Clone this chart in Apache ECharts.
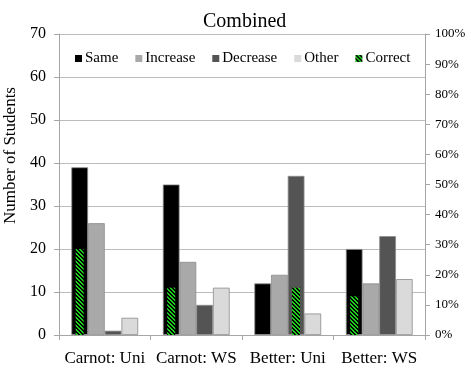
<!DOCTYPE html>
<html>
<head>
<meta charset="utf-8">
<script src="https://cdn.jsdelivr.net/npm/echarts@6/dist/echarts.min.js"></script>
<style>html,body{margin:0;padding:0;background:#fff;}#c{width:471px;height:369px;}</style>
</head>
<body>
<div id="c"></div>
<script>
const categories = ['Carnot: Uni', 'Carnot: WS', 'Better: Uni', 'Better: WS'];
const same = [39, 35, 12, 20];
const increase = [26, 17, 14, 12];
const decrease = [1, 7, 37, 23];
const other = [4, 11, 5, 13];
const correct = [20, 11, 11, 9];
const correctOver = ['Same', 'Same', 'Decrease', 'Same'];
const leftTicks = [0, 10, 20, 30, 40, 50, 60, 70];
const rightTicks = ['0%', '10%', '20%', '30%', '40%', '50%', '60%', '70%', '80%', '90%', '100%'];

const seriesNames = ['Same', 'Increase', 'Decrease', 'Other'];
const colors = ['#000000', '#a9a9a9', '#545454', '#dadada'];
const FONT = 'Liberation Serif';
const GAP = 0.27;

// striped pattern
const pc = document.createElement('canvas');
pc.width = 4; pc.height = 4;
const pctx = pc.getContext('2d');
const img = pctx.createImageData(4, 4);
for (let y = 0; y < 4; y++) for (let x = 0; x < 4; x++) {
  const i = (y * 4 + x) * 4;
  const m = ((x - y) % 4 + 4) % 4;
  const dark = (m === 0 || m === 1);
  img.data[i] = dark ? 0 : 30;
  img.data[i + 1] = dark ? 0 : 210;
  img.data[i + 2] = dark ? 0 : 30;
  img.data[i + 3] = 255;
}
pctx.putImageData(img, 0, 0);
const pattern = { image: pc, repeat: 'repeat' };

const correctData = correct.map((v, i) => [i, v, seriesNames.indexOf(correctOver[i])]);

const chart = echarts.init(document.getElementById('c'), null, { renderer: 'canvas' });
const barSeries = seriesNames.map((n, k) => ({
  name: n,
  type: 'bar',
  data: [same, increase, decrease, other][k],
  barGap: '0%',
  barCategoryGap: (GAP * 100) + '%',
  itemStyle: { color: colors[k], borderColor: '#8c8c8c', borderWidth: 0.8 },
  emphasis: { disabled: true },
  z: 2
}));

const option = {
  animation: false,
  backgroundColor: '#fff',
  title: {
    text: 'Combined', left: 198, top: 7,
    textStyle: { fontFamily: FONT, fontSize: 20, fontWeight: 'normal', color: '#000' }
  },
  legend: {
    left: 70, top: 46,
    itemWidth: 7, itemHeight: 7, itemGap: 17,
    icon: 'rect',
    textStyle: { fontFamily: FONT, fontSize: 15, color: '#000', padding: [0, 0, 0, -2] },
    data: [
      { name: 'Same', itemStyle: { color: colors[0], borderWidth: 0 } },
      { name: 'Increase', itemStyle: { color: colors[1], borderWidth: 0 } },
      { name: 'Decrease', itemStyle: { color: colors[2], borderWidth: 0 } },
      { name: 'Other', itemStyle: { color: colors[3], borderWidth: 0 } },
      { name: 'Correct', itemStyle: { color: pattern, borderWidth: 0 } }
    ],
    selectedMode: false
  },
  grid: { left: 59, right: 46, top: 34, bottom: 34, containLabel: false, outerBoundsMode: 'none' },
  xAxis: {
    type: 'category', data: categories,
    axisLine: { lineStyle: { color: '#a6a6a6', width: 1 } },
    axisTick: { show: true, length: 5, lineStyle: { color: '#a6a6a6' } },
    axisLabel: { fontFamily: FONT, fontSize: 17, color: '#000', margin: 15, interval: 0, hideOverlap: false }
  },
  yAxis: [
    {
      type: 'value', min: 0, max: 70, interval: 10,
      name: 'Number of Students', nameLocation: 'middle', nameGap: 33,
      nameTextStyle: { fontFamily: FONT, fontSize: 17, color: '#000', padding: [0, 0, 0, 58] },
      axisLine: { show: true, lineStyle: { color: '#a6a6a6' } },
      axisTick: { show: true, length: 5, lineStyle: { color: '#a6a6a6' } },
      splitLine: { lineStyle: { color: '#bcbcbc', width: 1 } },
      axisLabel: { fontFamily: FONT, fontSize: 16, color: '#000', margin: 13,
        formatter: v => String(leftTicks[Math.round(v / 10)]) }
    },
    {
      type: 'value', min: 0, max: 1, interval: 0.1, position: 'right',
      axisLine: { show: true, lineStyle: { color: '#a6a6a6' } },
      axisTick: { show: true, length: 5, lineStyle: { color: '#a6a6a6' } },
      splitLine: { show: false },
      axisLabel: { fontFamily: FONT, fontSize: 13, color: '#000', margin: 10,
        formatter: v => rightTicks[Math.round(v * 10)] }
    }
  ],
  series: barSeries.concat([{
    name: 'Correct',
    type: 'custom',
    data: correctData,
    z: 5,
    renderItem: function (params, api) {
      const cat = api.value(0);
      const val = api.value(1);
      const slot = api.value(2);
      const base = api.coord([cat, 0]);
      const top = api.coord([cat, val]);
      const bandW = api.size([1, 0])[0];
      const barW = bandW * (1 - GAP) / 4;
      const cx = base[0] + (slot - 1.5) * barW;
      const w = barW * 0.48;
      return {
        type: 'rect',
        shape: { x: cx - w / 2, y: top[1], width: w, height: base[1] - top[1] },
        style: { fill: pattern }
      };
    },
    itemStyle: { color: pattern }
  }])
};
chart.setOption(option);
</script>
</body>
</html>
